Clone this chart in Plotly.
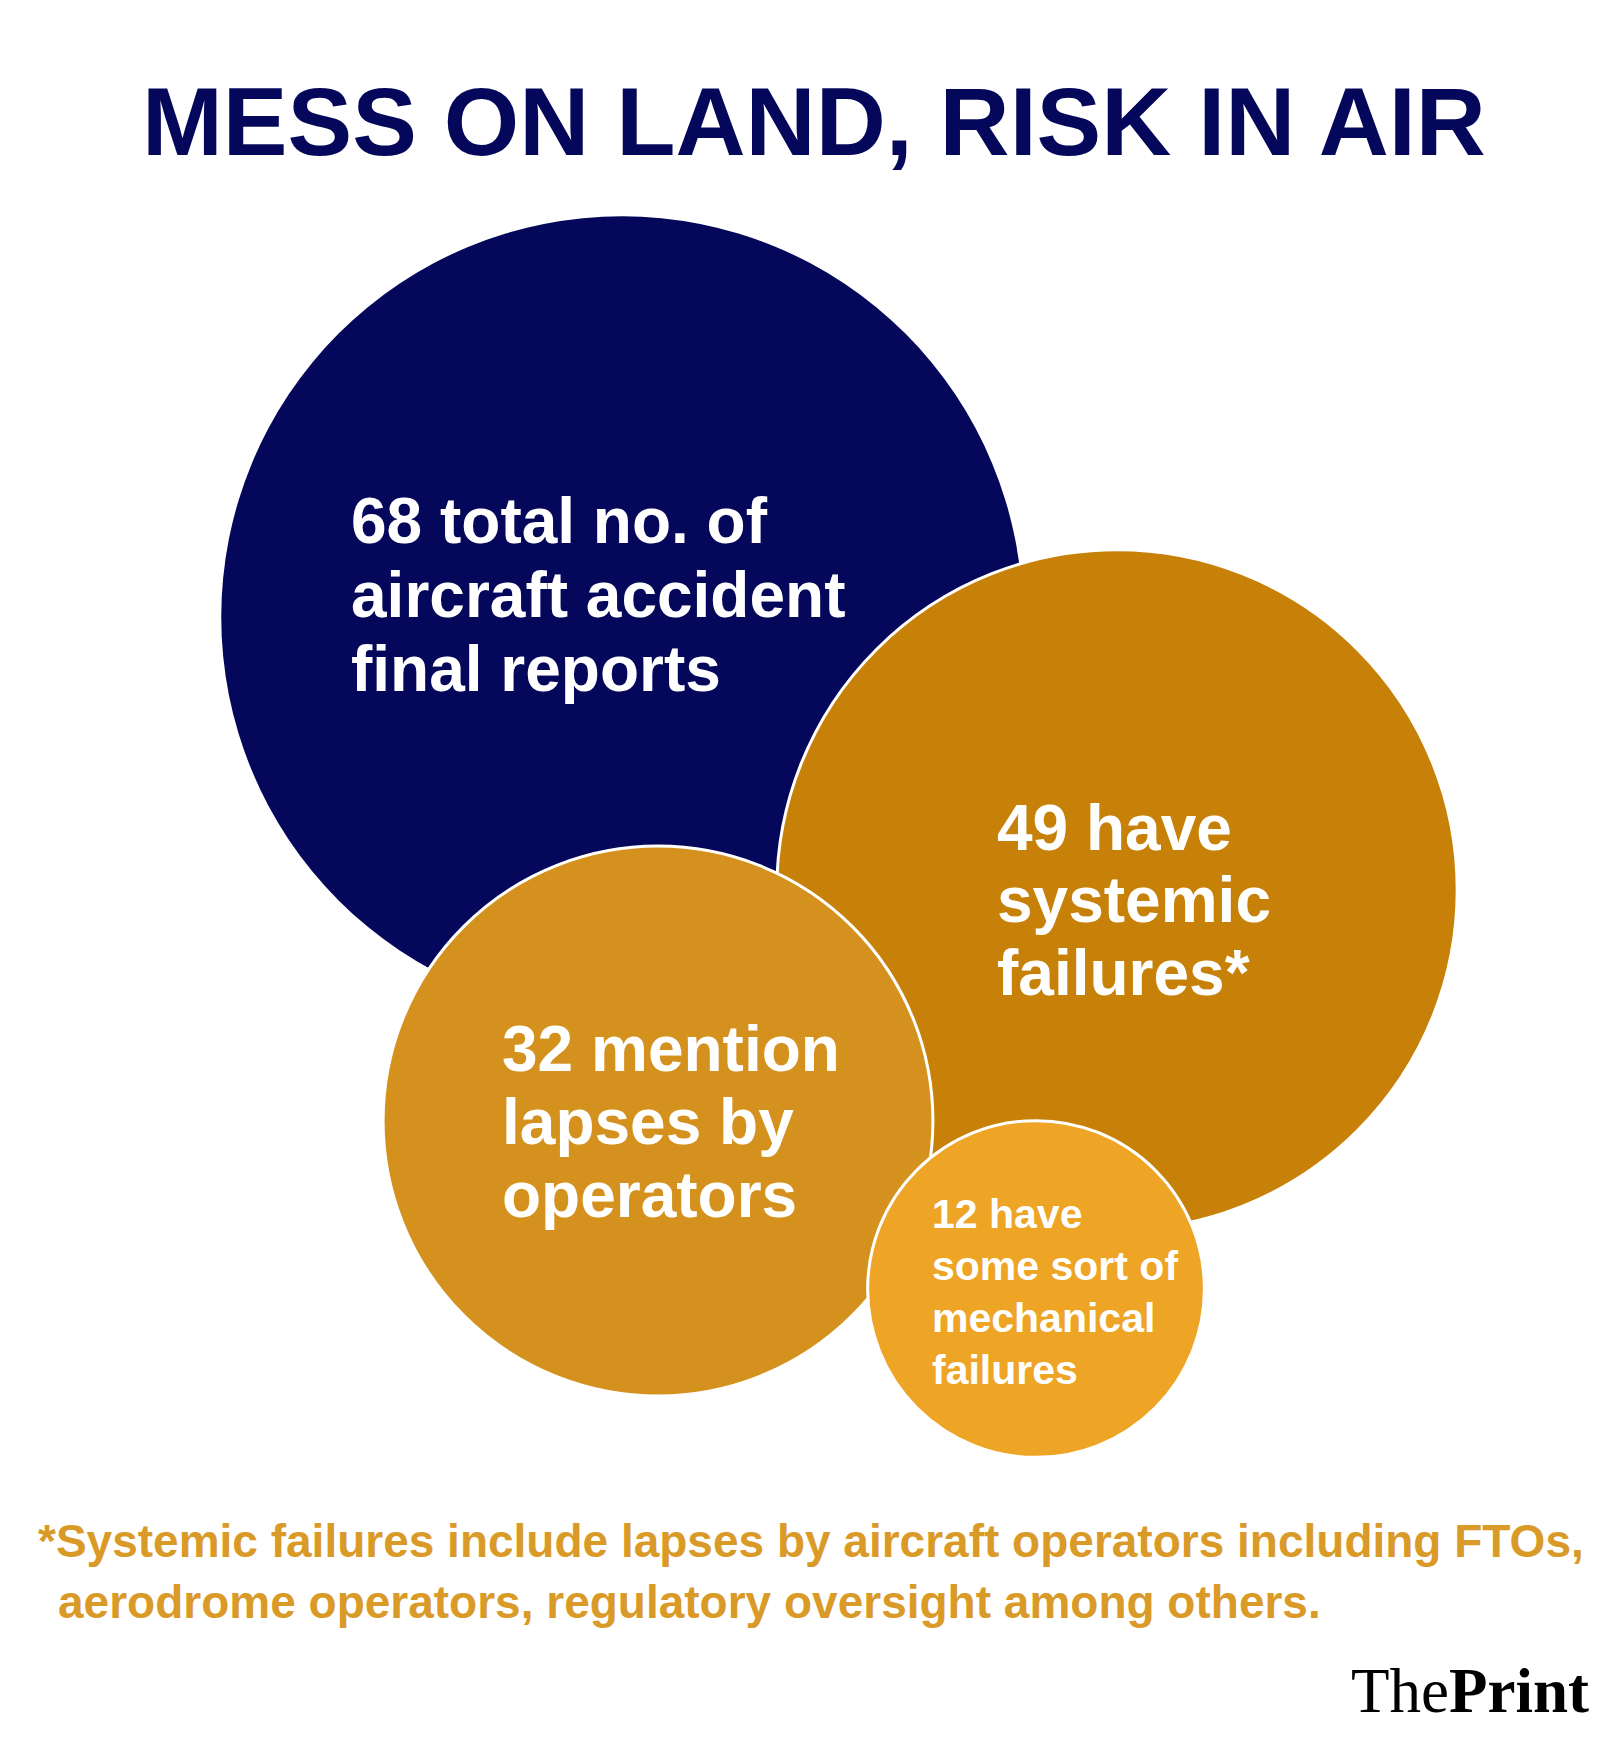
import numpy as np
import plotly.graph_objects as go

W, H = 1620, 1756

# ---- data ----
values = [68, 49, 32, 12]
labels = [
    ["68 total no. of", "aircraft accident", "final reports"],
    ["49 have", "systemic", "failures*"],
    ["32 mention", "lapses by", "operators"],
    ["12 have", "some sort of", "mechanical", "failures"],
]
title_text = "MESS ON LAND, RISK IN AIR"
footnote_lines = [
    "*Systemic failures include lapses by aircraft operators including FTOs,",
    "aerodrome operators, regulatory oversight among others.",
]

# ---- layout / style ----
centers_x = [622, 1117, 658, 1036]
centers_y = [617, 890, 1121, 1289]
colors = ["#05085A", "#C78108", "#D5911E", "#EEA425"]
outline_w = [0, 3, 3, 3]
radius_per_sqrt = 48.6

label_x = [349, 995, 500, 930]
label_base = [543, 850, 1071, 1228]
label_step = [74, 72.5, 73, 52]
label_size = [64, 64, 64, 41]

FONT = "Liberation Sans"
NAVY = "#05085A"
GOLD_TXT = "#DA9A27"

fig = go.Figure()
for i, v in enumerate(values):
    d = 2 * radius_per_sqrt * np.sqrt(v)
    fig.add_trace(go.Scatter(
        x=[centers_x[i]], y=[centers_y[i]], mode="markers",
        marker=dict(size=d, sizemode="diameter", color=colors[i], opacity=1,
                    line=dict(color="white", width=outline_w[i])),
        hoverinfo="skip", showlegend=False,
    ))

ann = []
for i, lines in enumerate(labels):
    fs = label_size[i]
    for j, ln in enumerate(lines):
        base = label_base[i] + j * label_step[i]
        ann.append(dict(x=label_x[i], y=base - 0.35 * fs, text=ln, showarrow=False,
                        xanchor="left", yanchor="middle", xref="x", yref="y",
                        font=dict(family=FONT, size=fs, color="white", weight=700)))

ann.append(dict(x=814, y=155 - 0.35 * 97, text=title_text, showarrow=False,
                xanchor="center", yanchor="middle", xref="x", yref="y",
                font=dict(family=FONT, size=97, color=NAVY, weight=700)))

fn_x = [36, 56]
fn_base = [1557, 1618]
for k, ln in enumerate(footnote_lines):
    ann.append(dict(x=fn_x[k], y=fn_base[k] - 0.35 * 46, text=ln, showarrow=False,
                    xanchor="left", yanchor="middle", xref="x", yref="y",
                    font=dict(family=FONT, size=46, color=GOLD_TXT, weight=700)))

ann.append(dict(x=1591, y=1712 - 0.34 * 63, text="The<b>Print</b>", showarrow=False,
                xanchor="right", yanchor="middle", xref="x", yref="y",
                font=dict(family="Liberation Serif", size=63, color="black")))

fig.update_layout(
    width=W, height=H, margin=dict(l=0, r=0, t=0, b=0),
    paper_bgcolor="white", plot_bgcolor="white",
    xaxis=dict(range=[0, W], visible=False, fixedrange=True),
    yaxis=dict(range=[H, 0], visible=False, fixedrange=True),
    annotations=ann, showlegend=False,
)
fig.write_html("out.html", config={"displayModeBar": False},
               post_script="document.body.style.margin='0';document.body.style.overflow='hidden';")
